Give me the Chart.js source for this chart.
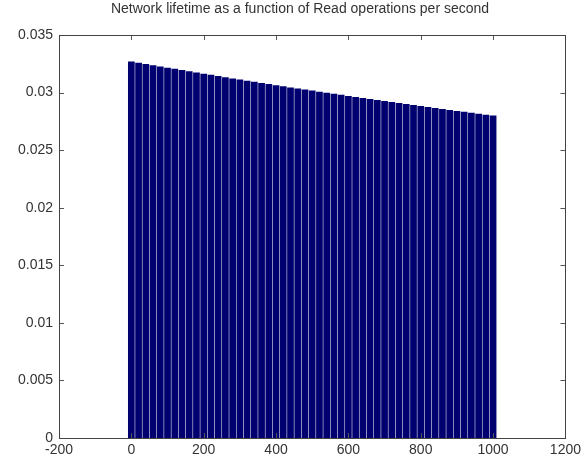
<!DOCTYPE html>
<html>
<head>
<meta charset="utf-8">
<script src="https://cdn.jsdelivr.net/npm/chart.js@4/dist/chart.umd.min.js"></script>
<style>
  html, body { margin: 0; padding: 0; background: #ffffff; }
  #wrap { width: 585px; height: 462px; }
</style>
</head>
<body>
<div id="wrap"><canvas id="c" width="585" height="462"></canvas></div>
<script>
// Read operations per second (bar positions)
const readOps = [0, 20, 40, 60, 80, 100, 120, 140, 160, 180, 200, 220, 240, 260, 280, 300,
  320, 340, 360, 380, 400, 420, 440, 460, 480, 500, 520, 540, 560, 580, 600, 620, 640,
  660, 680, 700, 720, 740, 760, 780, 800, 820, 840, 860, 880, 900, 920, 940, 960, 980, 1000];

// Network lifetime for each read rate
const lifetime = [0.03270, 0.03259, 0.03248, 0.03237, 0.03227, 0.03216, 0.03206, 0.03195,
  0.03185, 0.03174, 0.03164, 0.03154, 0.03144, 0.03133, 0.03123, 0.03113, 0.03103, 0.03094,
  0.03084, 0.03074, 0.03064, 0.03055, 0.03045, 0.03036, 0.03026, 0.03017, 0.03008, 0.02999,
  0.02989, 0.02980, 0.02971, 0.02962, 0.02953, 0.02944, 0.02935, 0.02926, 0.02918, 0.02909,
  0.02900, 0.02892, 0.02883, 0.02875, 0.02866, 0.02858, 0.02849, 0.02841, 0.02833, 0.02825,
  0.02816, 0.02808, 0.02800];

const xTickLabels = ['-200', '0', '200', '400', '600', '800', '1000', '1200'];
const yTickLabels = ['0', '0.005', '0.01', '0.015', '0.02', '0.025', '0.03', '0.035'];

const titleText = 'Network lifetime as a function of Read operations per second';
const FONT = '"Liberation Sans", Arial, sans-serif';

// Title above the axes box
const plotTitle = {
  id: 'plotTitle',
  afterDraw(chart) {
    const { ctx } = chart;
    ctx.save();
    ctx.font = '14px ' + FONT;
    ctx.fillStyle = '#333333';
    ctx.textAlign = 'center';
    ctx.textBaseline = 'middle';
    ctx.fillText(titleText, 300, 9);
    ctx.restore();
  }
};

// Box around the axes with inward-pointing ticks on all four sides
const boxTicks = {
  id: 'boxTicks',
  afterDatasetsDraw(chart) {
    const { ctx, chartArea: a, scales } = chart;
    const len = 5;
    ctx.save();
    ctx.strokeStyle = '#555555';
    ctx.lineWidth = 1;
    ctx.beginPath();
    scales.x.ticks.forEach(t => {
      const px = Math.round(scales.x.getPixelForValue(t.value)) + 0.5;
      ctx.moveTo(px, a.bottom); ctx.lineTo(px, a.bottom - len);
      ctx.moveTo(px, a.top); ctx.lineTo(px, a.top + len);
    });
    scales.y.ticks.forEach(t => {
      const py = Math.round(scales.y.getPixelForValue(t.value)) + 0.5;
      ctx.moveTo(a.left, py); ctx.lineTo(a.left + len, py);
      ctx.moveTo(a.right, py); ctx.lineTo(a.right - len, py);
    });
    ctx.stroke();
    ctx.strokeStyle = '#444444';
    ctx.strokeRect(Math.round(a.left) + 0.5, Math.round(a.top) + 0.5,
      Math.round(a.right - a.left), Math.round(a.bottom - a.top));
    ctx.restore();
  }
};

new Chart(document.getElementById('c'), {
  type: 'bar',
  data: {
    datasets: [{
      data: readOps.map((x, i) => ({ x: x, y: lifetime[i] })),
      backgroundColor: '#000070',
      borderWidth: 0,
      barPercentage: 0.93,
      categoryPercentage: 1.0
    }]
  },
  options: {
    responsive: false,
    animation: false,
    devicePixelRatio: 1,
    layout: { padding: { left: 0, right: 12, top: 35, bottom: 0 } },
    plugins: {
      legend: { display: false },
      tooltip: { enabled: false },
      title: { display: false }
    },
    scales: {
      x: {
        type: 'linear',
        offset: false,
        min: -200,
        max: 1200,
        grid: { display: false, drawTicks: false, offset: false },
        border: { display: false },
        ticks: {
          stepSize: 200,
          padding: 4,
          maxRotation: 0,
          autoSkip: false,
          color: '#333333',
          font: { family: FONT, size: 14 },
          callback: (v) => xTickLabels[Math.round((v + 200) / 200)]
        },
        afterFit: (s) => { s.height = 24; }
      },
      y: {
        type: 'linear',
        min: 0,
        max: 0.035,
        grid: { display: false, drawTicks: false },
        border: { display: false },
        ticks: {
          stepSize: 0.005,
          padding: 6,
          color: '#333333',
          font: { family: FONT, size: 14 },
          callback: (v) => yTickLabels[Math.round(v / 0.005)]
        },
        afterFit: (s) => { s.width = 59; }
      }
    }
  },
  plugins: [boxTicks, plotTitle]
});
</script>
</body>
</html>
